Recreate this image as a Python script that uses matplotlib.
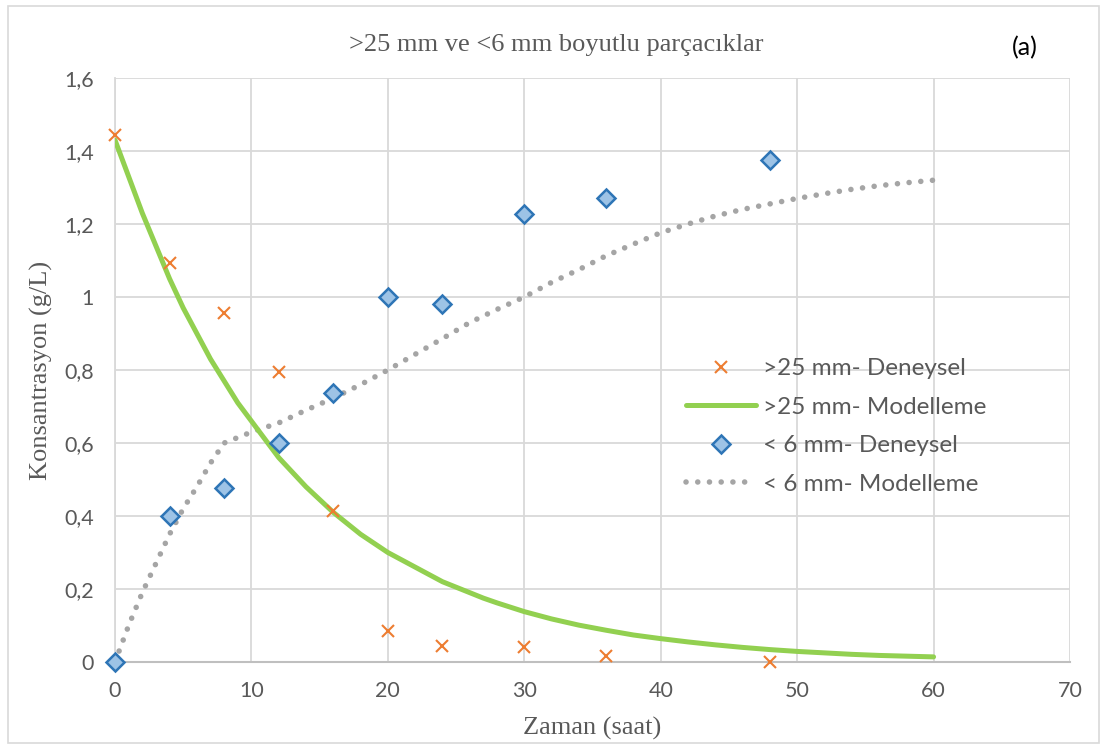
import numpy as np
import matplotlib
matplotlib.use("Agg")
import matplotlib.pyplot as plt
from matplotlib.patches import Rectangle
from matplotlib.ticker import FuncFormatter

# Data
t_exp = [0, 4, 8, 12, 16, 20, 24, 30, 36, 48]
big_exp = [1.444, 1.093, 0.955, 0.795, 0.414, 0.084, 0.044, 0.041, 0.016, 0.0]
small_exp = [0.0, 0.40, 0.477, 0.60, 0.736, 1.0, 0.98, 1.227, 1.272, 1.374]

t_big_model = [0, 1, 2, 3, 4, 5, 6, 7, 8, 9, 10, 11, 12, 13, 14, 15, 16, 17,
               18, 19, 20, 21, 22, 23, 24, 25, 26, 27, 28, 29, 30, 32, 34, 36,
               38, 40, 42, 44, 46, 48, 50, 52, 54, 56, 58, 60]
big_model = [1.43, 1.33, 1.23, 1.14, 1.05, 0.97, 0.90, 0.83, 0.77, 0.71, 0.66,
             0.61, 0.56, 0.52, 0.48, 0.445, 0.41, 0.38, 0.35, 0.325, 0.30,
             0.28, 0.26, 0.24, 0.22, 0.205, 0.19, 0.175, 0.162, 0.15, 0.138,
             0.118, 0.101, 0.087, 0.074, 0.064, 0.055, 0.047, 0.040, 0.034,
             0.029, 0.025, 0.021, 0.018, 0.016, 0.014]

t_small_model = [0.3, 1, 2, 3, 4, 5, 6, 7, 8, 10, 12, 14, 16, 18, 20, 22, 24,
                 26, 28, 30, 32, 34, 36, 38, 40, 42, 44, 46, 48, 50, 52, 54,
                 56, 58, 60]
small_model = [0.03, 0.10, 0.19, 0.27, 0.35, 0.42, 0.48, 0.545, 0.60, 0.63,
               0.655, 0.69, 0.723, 0.76, 0.80, 0.843, 0.886, 0.93, 0.966, 1.0,
               1.04, 1.075, 1.113, 1.145, 1.176, 1.20, 1.222, 1.24, 1.255, 1.27,
               1.283, 1.295, 1.305, 1.313, 1.32]

labels = [">25 mm- Deneysel", ">25 mm- Modelleme", "< 6 mm- Deneysel", "< 6 mm- Modelleme"]

sans = ["Lato", "DejaVu Sans"]
serif = ["Liberation Serif", "DejaVu Serif"]
txt_col = "#595959"

fig = plt.figure(figsize=(11.01, 7.45), dpi=100)
fig.patches.append(Rectangle((8 / 1101, 2 / 745), 1091 / 1101, 737 / 745,
                             transform=fig.transFigure, fill=False,
                             edgecolor="#D9D9D9", linewidth=1.2))
ax = fig.add_axes([115 / 1101, 83 / 745, 955 / 1101, 584 / 745])

ax.plot(t_small_model, small_model, color="#A5A5A5", linewidth=4.0,
        linestyle=(0, (0.01, 2.1)), dash_capstyle="round", zorder=3, label=labels[3])
ax.plot(t_big_model, big_model, color="#92D050", linewidth=3.6,
        solid_capstyle="round", zorder=4, label=labels[1])
ax.plot(t_exp, big_exp, linestyle="none", marker="x", markersize=8,
        markeredgewidth=1.5, color="#ED7D31", zorder=5, label=labels[0],
        clip_on=False)
ax.plot(t_exp, small_exp, linestyle="none", marker="D", markersize=9,
        markerfacecolor="#9DC3E6", markeredgecolor="#2E75B6",
        markeredgewidth=1.8, zorder=6, label=labels[2], clip_on=False)

ax.set_xlim(0, 70)
ax.set_ylim(0, 1.6)
ax.set_xticks(np.arange(0, 71, 10))
ax.set_yticks(np.arange(0, 1.61, 0.2))
ax.yaxis.set_major_formatter(FuncFormatter(lambda v, p: ("%g" % round(v, 1)).replace(".", ",")))
ax.grid(True, color="#D9D9D9", linewidth=1.3, zorder=0)
ax.set_axisbelow(True)
for s in ["top", "right"]:
    ax.spines[s].set_visible(False)
ax.spines["left"].set_color("#D9D9D9")
ax.spines["left"].set_linewidth(1.3)
ax.spines["bottom"].set_color("#BFBFBF")
ax.spines["bottom"].set_linewidth(1.5)
ax.tick_params(length=0, labelcolor=txt_col, labelsize=15.5)
ax.tick_params(axis="x", pad=14)
ax.tick_params(axis="y", pad=15)
for lab in ax.get_xticklabels() + ax.get_yticklabels():
    lab.set_family(sans)

ax.set_xlabel("Zaman (saat)", family=serif, fontsize=19, color=txt_col, labelpad=11)
ax.set_ylabel("Konsantrasyon (g/L)", family=serif, fontsize=19, color=txt_col, labelpad=8)
fig.text(556 / 1101, 1 - 45 / 745, ">25 mm ve <6 mm boyutlu parçacıklar",
         family=serif, fontsize=19, color=txt_col, ha="center", va="center")
fig.text(1025 / 1101, 1 - 48 / 745, "(a)", family=sans, fontsize=18,
         color="black", ha="center", va="center")

h, l = ax.get_legend_handles_labels()
hd = {lab: hh for hh, lab in zip(h, l)}
leg = ax.legend([hd[x] for x in labels], labels, loc="center left",
                bbox_to_anchor=(686 / 1101, 1 - 426.5 / 745),
                bbox_transform=fig.transFigure, frameon=False, borderpad=0,
                borderaxespad=0, handlelength=2.9, handletextpad=0.25,
                labelspacing=0.72, prop={"family": sans, "size": 17.5})
for t in leg.get_texts():
    t.set_color(txt_col)

fig.savefig("out.png", dpi=100)
